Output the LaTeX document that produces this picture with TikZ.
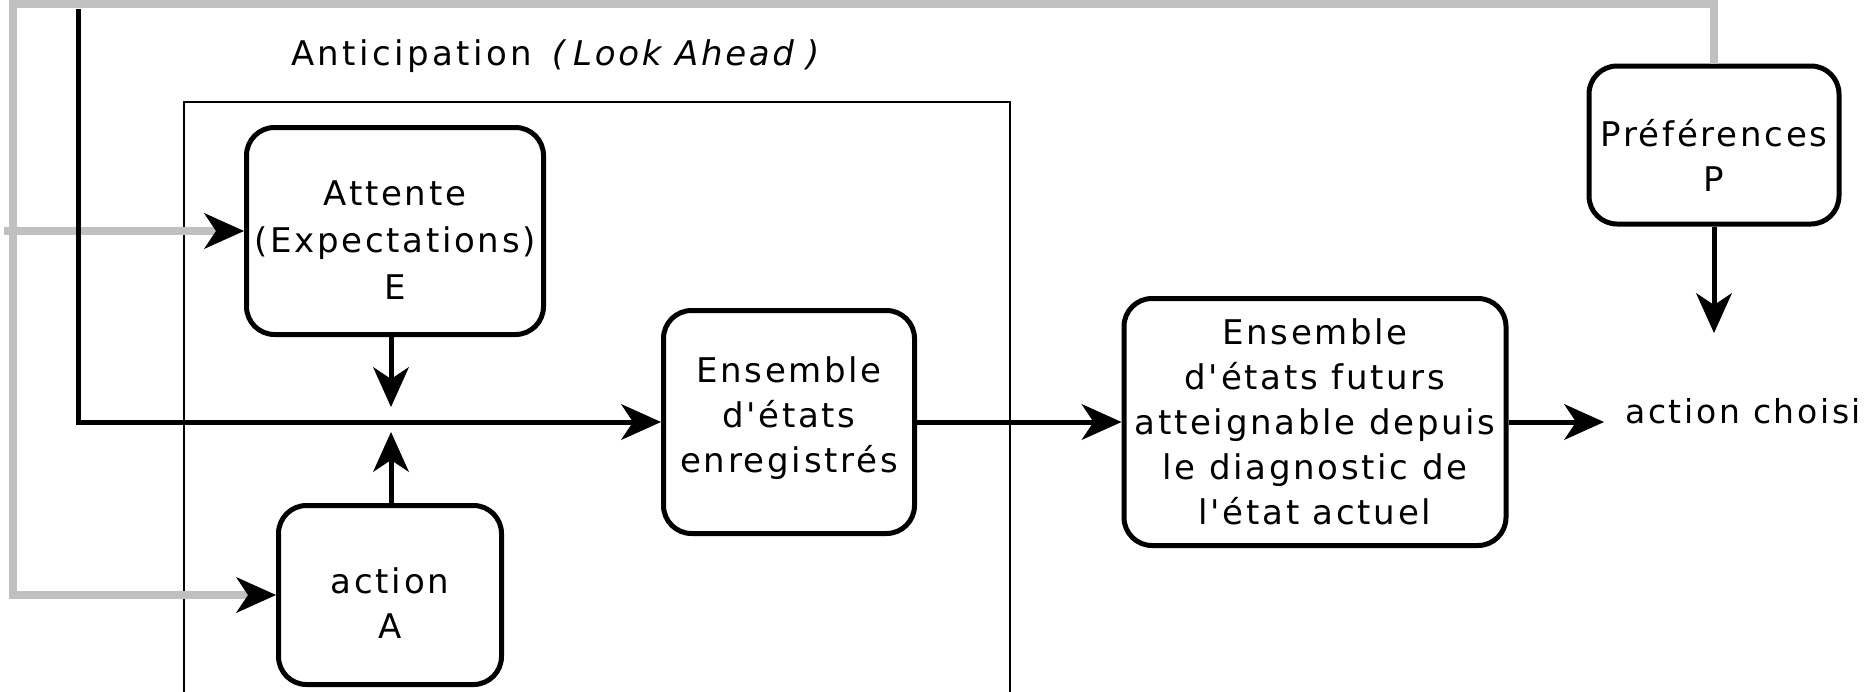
\documentclass[tikz,border=0pt]{standalone}
\usepackage{fontspec}
\newfontfamily\diafont{DejaVu Sans}[LetterSpace=8]
\usetikzlibrary{arrows.meta}
\definecolor{framegray}{HTML}{C0C0C0}
% struts that move a box's text block down (tall first line) or up (deep last line)
\newcommand\lifttop[1]{\rule{0pt}{#1}}
\newcommand\sinkbot[1]{\rule[-#1]{0pt}{1pt}}

\begin{document}
\begin{tikzpicture}[x=1pt,y=-1pt,
  box/.style={draw, line width=5pt, rounded corners=28pt, align=center,
    inner sep=0pt, font=\diafont\fontsize{34}{45}\selectfont},
  txt/.style={inner sep=0pt, font=\diafont\fontsize{34}{45}\selectfont},
  tip/.style={-{Stealth[length=40pt,width=36pt,inset=12pt,line width=1pt,black]}},
  flow/.style={line width=5pt, tip},
  fb/.style={line width=8pt, draw=framegray, tip}]

\useasboundingbox (0,0) rectangle (1864,691);
\clip (0,0) rectangle (1864,691);

% boxes
\node[box, minimum width=297pt, minimum height=207pt, font=\diafont\fontsize{34}{47}\selectfont] (att) at (395,231)
  {\lifttop{43pt}Attente\\(Expectations)\\E};
\node[box, minimum width=223pt, minimum height=179pt] (act) at (390,595) {\lifttop{42pt}action\\A};
\node[box, minimum width=251pt, minimum height=223pt] (ens) at (789,422) {Ensemble\\d'états\\enregistrés\sinkbot{15pt}};
\node[box, minimum width=382pt, minimum height=247pt] (fut) at (1315,422) {Ensemble\\d'états futurs\\atteignable depuis\\le diagnostic de\\l'état actuel};
\node[box, minimum width=250pt, minimum height=158pt] (pref) at (1714,145) {\lifttop{47pt}Préférences\\P};

% anticipation frame and its title
\draw[line width=2.5pt] (184,720) |- (1010,102) -- (1010,720);
\node[txt, anchor=base west] (ttl) at (291,65)
  {{\addfontfeatures{LetterSpace=10}Anticipation}\hspace{20pt}{\itshape(\hspace{8pt}Look Ahead\hspace{12pt})}};

% outcome
\node[txt, anchor=base west, font=\diafont\fontsize{33}{45}\selectfont] (choice) at (1625,423) {action choisi};

% junction points and free ends
\coordinate (fl) at (13,4);
\coordinate (gs) at (4,231);
\coordinate (ftop) at (78,9);
\coordinate (jd) at (391,407);
\coordinate (ju) at (391,432);
\coordinate (pt) at (1714,333);

% grey feedback loop
\draw[fb] (pref.north) |- (fl) |- (act.west);
\draw[fb] (gs) -- (att.west);

% black connectors
\draw[flow] (ftop) |- (ens.west);
\draw[flow] (att.south -| jd) -- (jd);
\draw[flow] (act.north -| ju) -- (ju);
\draw[flow] (ens.east) -- (fut.west);
\draw[flow, shorten >=21pt] (fut.east) -- (fut.east -| choice.west);
\draw[flow] (pref.south) -- (pt);
\end{tikzpicture}
\end{document}
